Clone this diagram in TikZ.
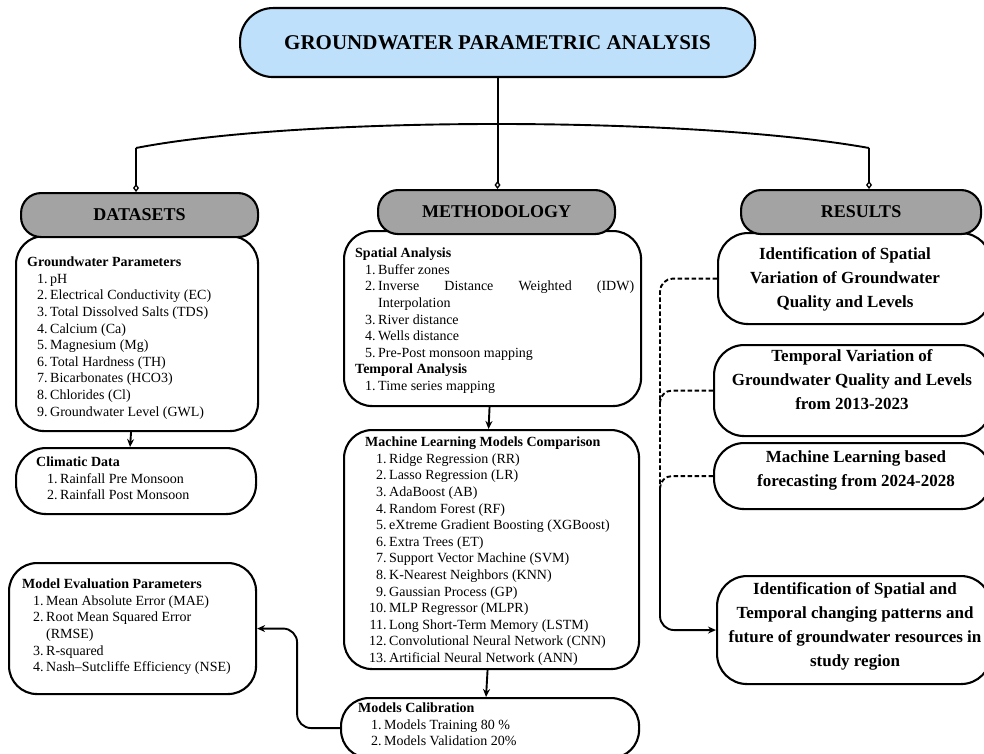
\documentclass[tikz,border=0pt]{standalone}
\usepackage{fontspec}
\setmainfont{Liberation Serif}
\usetikzlibrary{arrows.meta,calc}
\definecolor{topblue}{HTML}{BFE0FB}
\definecolor{hdrgray}{HTML}{A3A3A3}
\newcommand{\bodyfnt}{\fontsize{14}{16.6}\selectfont}
\newcommand{\resfnt}{\fontsize{17}{24}\selectfont\bfseries}
\newcommand{\hdrfnt}{\fontsize{18}{21}\selectfont\bfseries}
\newcommand{\topfnt}{\fontsize{21}{25}\selectfont\bfseries}
\tikzset{
  rbox/.style={draw, line width=2.1pt, fill=white, inner sep=0pt, rounded corners=28pt},
  hdr/.style={draw, line width=2.1pt, fill=hdrgray, inner sep=0pt, rounded corners=20pt, font=\hdrfnt, minimum height=44pt},
  txt/.style={inner sep=0pt, font=\bodyfnt, anchor=base west},
  restxt/.style={inner sep=0pt, font=\resfnt, align=center},
  conn/.style={line width=1.9pt, black},
  arr/.style={conn, -{Stealth[length=8pt,width=7pt]}},
  dsh/.style={conn, dash pattern=on 4.5pt off 2.5pt},
  dtip/.style={conn, -{Diamond[open,length=8pt,width=6pt,line width=1.3pt]}}
}
\begin{document}
\begin{tikzpicture}[x=1pt,y=-1pt]
\useasboundingbox (0,0) rectangle (984,754);

% top
\node[rbox, fill=topblue, rounded corners=33pt, minimum width=515pt, minimum height=69pt, anchor=north west, font=\topfnt] (top) at (239,7) {GROUNDWATER PARAMETRIC ANALYSIS};

% content boxes (drawn before headers)
\node[rbox, minimum width=242pt, minimum height=195pt, anchor=north west] (gw) at (15,235) {};
\node[rbox, rounded corners=30pt, minimum width=240pt, minimum height=66pt, anchor=north west] (clim) at (15,447) {};
\node[rbox, minimum width=247pt, minimum height=131pt, anchor=north west] (me) at (8,562) {};
\node[rbox, minimum width=297pt, minimum height=175pt, anchor=north west] (sp) at (343,230) {};
\node[rbox, minimum width=295pt, minimum height=239pt, anchor=north west] (ml) at (343,429) {};
\node[rbox, minimum width=298pt, minimum height=60pt, anchor=north west] (cal) at (340,697) {};

\node[rbox, rounded corners=30pt, minimum width=273pt, minimum height=91pt, anchor=north west] (r1) at (717,232) {};
\node[rbox, rounded corners=30pt, minimum width=277pt, minimum height=91pt, anchor=north west] (r2) at (713,344) {};
\node[rbox, rounded corners=30pt, minimum width=277pt, minimum height=66pt, anchor=north west] (r3) at (713,442) {};
\node[rbox, rounded corners=30pt, minimum width=274pt, minimum height=108pt, anchor=north west] (r4) at (716,575) {};

% headers
\node[hdr, minimum width=237pt, anchor=north west] (dh) at (20,192) {DATASETS};
\node[hdr, minimum width=237pt, anchor=north west] (mh) at (377,189) {METHODOLOGY};
\node[hdr, minimum width=240pt, anchor=north west] (rh) at (740,189) {RESULTS};

% texts
\node[txt] (gwt) at (27,266.6) {\begin{tabular}[t]{@{\hspace{10pt}}r@{\hspace{2.5pt}}l@{}}
\multicolumn{2}{@{}l@{}}{\textbf{Groundwater Parameters}}\\
1.&pH\\
2.&Electrical Conductivity (EC)\\
3.&Total Dissolved Salts (TDS)\\
4.&Calcium (Ca)\\
5.&Magnesium (Mg)\\
6.&Total Hardness (TH)\\
7.&Bicarbonates (HCO3)\\
8.&Chlorides (Cl)\\
9.&Groundwater Level (GWL)
\end{tabular}};

\node[txt] (climt) at (36,466.6) {\begin{tabular}[t]{@{\hspace{11pt}}r@{\hspace{2.5pt}}l@{}}
\multicolumn{2}{@{}l@{}}{\textbf{Climatic Data}}\\
1.&Rainfall Pre Monsoon\\
2.&Rainfall Post Monsoon
\end{tabular}};

\node[txt] (met) at (22,588.6) {\begin{tabular}[t]{@{\hspace{11pt}}r@{\hspace{2.5pt}}l@{}}
\multicolumn{2}{@{}l@{}}{\textbf{Model Evaluation Parameters}}\\
1.&Mean Absolute Error (MAE)\\
2.&Root Mean Squared Error\\
&(RMSE)\\
3.&R-squared\\
4.&Nash--Sutcliffe Efficiency (NSE)
\end{tabular}};

\node[txt] (spt) at (355,257.6) {\begin{tabular}[t]{@{\hspace{10pt}}r@{\hspace{2.5pt}}l@{}}
\multicolumn{2}{@{}l@{}}{\textbf{Spatial Analysis}}\\
1.&Buffer zones\\
2.&\parbox[t]{256pt}{Inverse\hfill Distance\hfill Weighted\hfill (IDW)\\Interpolation\strut}\\
3.&River distance\\
4.&Wells distance\\
5.&Pre-Post monsoon mapping\\
\multicolumn{2}{@{}l@{}}{\textbf{Temporal Analysis}}\\
1.&Time series mapping
\end{tabular}};

\node[txt] (mlt) at (365,446.6) {\begin{tabular}[t]{@{\hspace{4pt}}r@{\hspace{2.5pt}}l@{}}
\multicolumn{2}{@{}l@{}}{\textbf{Machine Learning Models Comparison}}\\
1.&Ridge Regression (RR)\\
2.&Lasso Regression (LR)\\
3.&AdaBoost (AB)\\
4.&Random Forest (RF)\\
5.&eXtreme Gradient Boosting (XGBoost)\\
6.&Extra Trees (ET)\\
7.&Support Vector Machine (SVM)\\
8.&K-Nearest Neighbors (KNN)\\
9.&Gaussian Process (GP)\\
10.&MLP Regressor (MLPR)\\
11.&Long Short-Term Memory (LSTM)\\
12.&Convolutional Neural Network (CNN)\\
13.&Artificial Neural Network (ANN)
\end{tabular}};

\node[txt] (calt) at (358,712.6) {\begin{tabular}[t]{@{\hspace{13pt}}r@{\hspace{2.5pt}}l@{}}
\multicolumn{2}{@{}l@{}}{\textbf{Models Calibration}}\\
1.&Models Training 80 \%\\
2.&Models Validation 20\%
\end{tabular}};

\node[restxt] (r1t) at (845,279.5) {Identification of Spatial\\Variation of Groundwater\\Quality and Levels};
\node[restxt] (r2t) at (852,380) {Temporal Variation of\\Groundwater Quality and Levels\\from 2013-2023};
\node[restxt] (r3t) at (856,470.5) {Machine Learning based\\forecasting from 2024-2028};
\node[restxt] (r4t) at (855,626) {Identification of Spatial and\\Temporal changing patterns and\\future of groundwater resources in\\study region};

% tree connectors
\coordinate (cl) at (136,148);
\coordinate (cr) at (869,148);
\draw[conn] (cl) .. controls (300,116) and (690,116) .. (cr);
\draw[dtip] (cl) -- (cl |- dh.north);
\draw[dtip] (cr) -- (cr |- rh.north);
\draw[dtip] (top.south) -- (top.south |- mh.north);

% arrows
\draw[arr] ([xshift=-6pt]gw.south) -- ([xshift=-6pt]clim.north);
\draw[arr] ([xshift=-3pt]sp.south) -- ([xshift=-3pt]ml.north);
\draw[arr] ([xshift=-4pt]ml.south) -- ([xshift=-4pt]cal.north);
\draw[arr, rounded corners=14pt] (cal.west) -| ([xshift=40pt]me.east) -- (me.east);

% results connectors
\coordinate (jn) at (660,490);
\draw[dsh, rounded corners=13pt] (r1.west) -| (jn);
\draw[dsh, rounded corners=12pt] (r2.west) -| ($(r2.west -| jn)+(0,14)$);
\draw[dsh, rounded corners=12pt] (r3.west) -| ($(r3.west -| jn)+(0,14)$);
\draw[arr, rounded corners=14pt] (jn) |- (r4.west);
\end{tikzpicture}
\end{document}
